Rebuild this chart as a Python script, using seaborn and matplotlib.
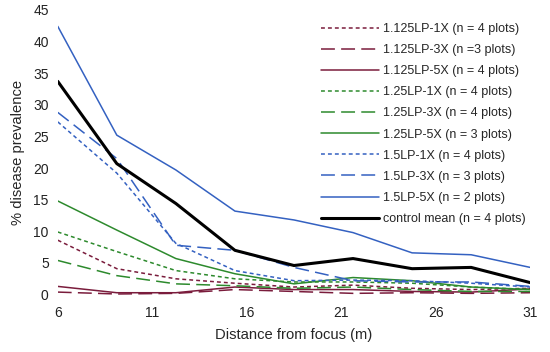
import numpy as np
import pandas as pd
import matplotlib
matplotlib.use("Agg")
import matplotlib.pyplot as plt
import seaborn as sns

# distances from focus (m)
distance = [6, 9.125, 12.25, 15.375, 18.5, 21.625, 24.75, 27.875, 31]

# % disease prevalence per treatment
lp1125_1x = [8.6, 4.1, 2.5, 1.8, 1.2, 1.5, 1.0, 0.8, 1.0]
lp1125_3x = [0.4, 0.1, 0.2, 0.8, 0.5, 0.2, 0.3, 0.2, 0.3]
lp1125_5x = [1.3, 0.3, 0.3, 1.2, 0.8, 0.8, 0.5, 0.4, 0.9]
lp125_1x = [9.9, 6.8, 3.8, 2.5, 2.0, 2.0, 1.8, 1.2, 0.8]
lp125_3x = [5.4, 3.0, 1.7, 1.4, 1.0, 1.2, 0.8, 0.5, 0.5]
lp125_5x = [14.8, 10.2, 5.7, 3.3, 1.7, 2.7, 2.2, 1.2, 0.8]
lp15_1x = [27.3, 19.2, 8.1, 3.8, 2.2, 2.3, 2.2, 1.8, 1.2]
lp15_3x = [28.8, 21.5, 7.8, 7.0, 4.3, 2.2, 2.0, 2.0, 1.3]
lp15_5x = [42.4, 25.2, 19.7, 13.2, 11.8, 9.8, 6.6, 6.3, 4.3]
control = [33.7, 20.7, 14.4, 7.0, 4.6, 5.7, 4.1, 4.3, 1.9]

labels = ["1.125LP-1X (n = 4 plots)", "1.125LP-3X (n =3 plots)", "1.125LP-5X (n = 4 plots)",
          "1.25LP-1X (n = 4 plots)", "1.25LP-3X (n = 4 plots)", "1.25LP-5X (n = 3 plots)",
          "1.5LP-1X (n = 4 plots)", "1.5LP-3X (n = 3 plots)", "1.5LP-5X (n = 2 plots)",
          "control mean (n = 4 plots)"]
series = [lp1125_1x, lp1125_3x, lp1125_5x, lp125_1x, lp125_3x, lp125_5x,
          lp15_1x, lp15_3x, lp15_5x, control]

maroon, green, blue = "#7a1c3c", "#2d8a2d", "#3461c1"
colors = [maroon] * 3 + [green] * 3 + [blue] * 3 + ["black"]
dot = (0, (2.8, 2.2))
dash = (0, (10, 4.5))
styles = [dot, dash, "-"] * 3 + ["-"]
widths = [1.1] * 9 + [2.2]

sns.set_style("white")
plt.rcParams["font.family"] = ["Liberation Sans", "DejaVu Sans"]
plt.rcParams["lines.scale_dashes"] = False

fig = plt.figure(figsize=(5.5, 3.52), dpi=100)
ax = fig.add_axes([0.105, 0.163, 0.859, 0.809])

for lab, vals, c, ls, lw in zip(labels, series, colors, styles, widths):
    df = pd.DataFrame({"dist": distance, "prev": vals})
    sns.lineplot(data=df, x="dist", y="prev", color=c, linestyle=ls,
                 linewidth=lw, label=lab, ax=ax)

ax.set_xlim(6, 31)
ax.set_ylim(0, 45)
ax.set_xticks(np.arange(6, 32, 5))
ax.set_yticks(np.arange(0, 46, 5))
ax.tick_params(labelsize=10, length=0, colors="#222222")
ax.tick_params(axis="x", pad=8)
ax.tick_params(axis="y", pad=6.5)
ax.set_xlabel("Distance from focus (m)", fontsize=10.6, labelpad=6)
ax.set_ylabel("% disease prevalence", fontsize=10.6, labelpad=6)
for s in ax.spines.values():
    s.set_visible(False)

ax.legend(loc="upper right", bbox_to_anchor=(1.008, 0.985), frameon=False,
          fontsize=9, handlelength=4.6, handletextpad=0.3,
          labelspacing=0.73, borderaxespad=0.3)

fig.savefig("out.png", dpi=100)
